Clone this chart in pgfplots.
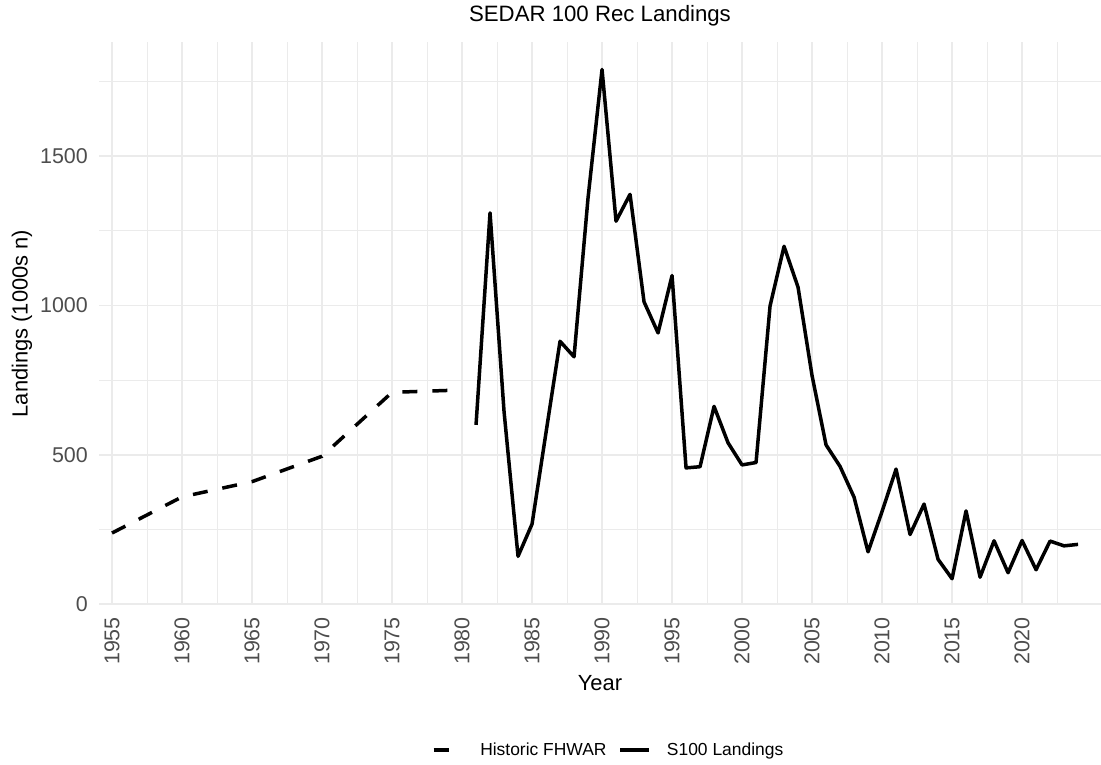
\documentclass[border=0pt]{standalone}
\usepackage{pgfplots}
\pgfplotsset{compat=1.18}
\usepackage{fontspec}
\setmainfont{Liberation Sans}
\definecolor{gridc}{RGB}{235,235,235}
\definecolor{tickc}{RGB}{77,77,77}
\begin{document}
\begin{tikzpicture}
\path[use as bounding box] (-99bp,-160bp) rectangle (1002bp,605bp);
\begin{axis}[
  at={(0,0)}, anchor=south west,
  scale only axis, width=1002bp, height=563bp,
  xmin=1954.07, xmax=2025.64, ymin=-3, ymax=1882,
  axis line style={draw=none}, major tick length=0pt, minor tick length=0pt,
  xtick={1955,1960,...,2020},
  minor xtick={1957.5,1962.5,...,2025},
  ytick={0,500,1000,1500},
  minor ytick={250,750,1250,1750},
  grid=both,
  major grid style={color=gridc, line width=1.6bp},
  minor grid style={color=gridc, line width=0.9bp},
  /pgf/number format/assume math mode=true,
  /pgf/number format/1000 sep={},
  xticklabel style={rotate=90, anchor=east, inner sep=0pt, text=tickc, font=\fontsize{21.5}{24}\selectfont},
  yticklabel style={anchor=east, inner sep=0pt, text=tickc, font=\fontsize{21.5}{24}\selectfont},
  xticklabel shift=12bp,
  yticklabel shift=11bp,
  legend style={at={(0.5085,-0.2575)}, anchor=center, draw=none, fill=none,
    legend columns=-1, font=\fontsize{17.5}{20}\selectfont,
    /tikz/every odd column/.append style={column sep=14bp},
    /tikz/every even column/.append style={column sep=10bp}},
  legend image code/.code={\draw[#1] (0bp,0bp) -- (29bp,0bp);},
]
\addplot[black, line width=3.5bp, dash pattern=on 15bp off 15bp, line join=round] coordinates {
(1955,238) (1960,359) (1965,410) (1970,495) (1975,709) (1980,717)
};
\addlegendentry{Historic FHWAR}
\addplot[black, line width=3.5bp, line join=round] coordinates {
(1981,600) (1982,1310) (1983,645) (1984,160) (1985,268) (1986,575) (1987,880)
(1988,828) (1989,1360) (1990,1790) (1991,1282) (1992,1372) (1993,1012) (1994,908)
(1995,1100) (1996,456) (1997,460) (1998,662) (1999,540) (2000,466) (2001,474)
(2002,998) (2003,1198) (2004,1061) (2005,765) (2006,533) (2007,461) (2008,358)
(2009,175) (2010,310) (2011,452) (2012,233) (2013,335) (2014,150) (2015,85)
(2016,312) (2017,90) (2018,212) (2019,105) (2020,213) (2021,115) (2022,211)
(2023,195) (2024,200)
};
\addlegendentry{S100 Landings}
\end{axis}
\node[font=\fontsize{22.3}{26}\selectfont] at (501bp,589bp) {SEDAR 100 Rec Landings};
\node[font=\fontsize{22}{26}\selectfont] at (501bp,-78bp) {Year};
\node[font=\fontsize{22}{26}\selectfont, rotate=90] at (-77bp,281.5bp) {Landings (1000s n)};
\end{tikzpicture}
\end{document}
